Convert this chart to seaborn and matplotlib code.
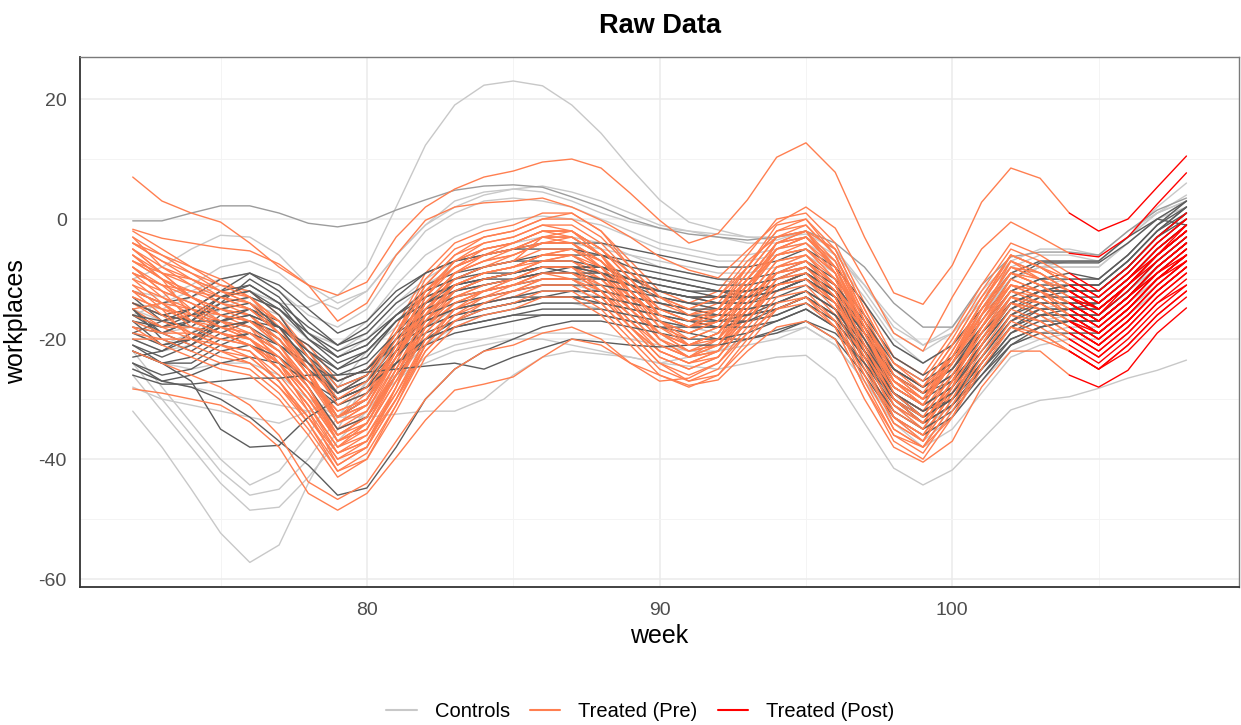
import matplotlib
matplotlib.use("Agg")
import matplotlib.pyplot as plt
from matplotlib.lines import Line2D
from matplotlib.ticker import MultipleLocator
import pandas as pd
import seaborn as sns

WEEKS = list(range(72, 109))
TREAT_START = 104

# treated units: coral up to week 104, red from week 104 on
t_hi = [7, 3, 1, -0.5, -4, -8, -11, -12.7, -10.5, -3, 2, 5, 7, 8, 9.5, 10, 8.5, 4.3, -0.2, -4, -2.4, 3.2, 10.3, 12.7, 7.8, -3, -12.3, -14.2, -7.7, 2.8, 8.5, 6.8, 1, -2, 0, 5.3, 10.5]
t_hi2 = [-1.7, -3.2, -4, -4.8, -5.3, -7.5, -11, -17, -14, -6, -0.2, 2, 2.7, 3, 3.5, 2, -0.2, -3, -6.3, -8.5, -9.8, -5.2, -0.7, 2, -1.5, -10, -19, -22, -13, -5, -0.5, -3, -5.7, -6.3, -3, 2.5, 7.7]
t_lo = [-28.3, -29, -30, -31, -33.8, -38, -45.7, -48.5, -45.7, -39.7, -33.5, -28.5, -27.5, -26.3, -23, -20, -21, -24, -26, -27.7, -26.8, -22, -18, -17, -20, -30, -38, -40.5, -37, -28, -22, -22, -26, -28, -25.2, -19, -14.8]
t_lo2 = [-22, -24, -26, -28, -31, -36, -43.8, -46.7, -44, -37, -30, -25, -22, -21, -19, -18, -20, -24, -27, -26.5, -24, -19, -15, -14, -18, -28, -36, -38, -33, -24, -18, -19, -22, -25, -21, -16, -12]
t_a = [-4, -7, -9, -11, -12, -16, -22, -29, -26, -18, -9, -4, -2, -1, 1, 1, -2, -7, -12, -14, -12, -6, 0, 1, -4, -14, -23, -26, -19, -11, -4, -6, -9, -12, -8, -3, 1]
t_b = [-6, -9, -11, -13, -14, -18, -21, -27, -25, -19, -11, -6, -4, -3, -1, -1, -4, -9, -14, -16, -14, -8, -2, -1, -6, -16, -25, -28, -21, -13, -6, -8, -11, -14, -10, -5, -1]
t_c = [-5, -9, -13, -15, -16, -20, -26, -33, -30, -22, -13, -8, -6, -5, -3, -3, -6, -11, -16, -18, -16, -10, -4, -3, -8, -18, -27, -30, -23, -15, -8, -10, -13, -16, -12, -7, -3]
t_d = [-13, -15, -16, -17, -20, -23, -28, -35, -32, -24, -15, -10, -8, -7, -3, -4, -8, -13, -18, -20, -18, -12, -6, -5, -10, -20, -29, -32, -25, -17, -10, -12, -15, -18, -14, -9, -5]
t_e = [-8, -12, -17, -19, -20, -24, -30, -37, -34, -26, -17, -12, -10, -9, -7, -7, -10, -15, -20, -22, -20, -14, -8, -7, -12, -22, -31, -34, -27, -19, -12, -14, -17, -20, -16, -11, -7]
t_f = [-14, -17, -19, -21, -22, -26, -32, -39, -36, -28, -19, -14, -12, -11, -9, -9, -12, -17, -22, -24, -22, -16, -10, -9, -14, -24, -33, -36, -29, -21, -14, -16, -19, -22, -18, -13, -9]
t_g = [-18, -19, -21, -23, -24, -28, -34, -41, -38, -30, -21, -16, -14, -13, -11, -11, -14, -19, -24, -26, -24, -18, -12, -11, -16, -26, -35, -38, -31, -23, -16, -18, -21, -24, -20, -15, -11]
t_h = [-3, -6, -9, -12, -14, -19, -25, -33, -30, -21, -12, -7, -5, -4, -2, -3, -6, -12, -17, -19, -17, -10, -4, -2, -8, -18, -28, -31, -24, -16, -9, -11, -14, -17, -13, -8, -4]
t_i = [-7, -10, -12, -14, -15, -19, -25, -34, -31, -22, -12, -7, -5, -4, -2, -2, -5, -10, -15, -17, -15, -9, -3, -2, -7, -17, -26, -29, -22, -14, -7, -9, -12, -15, -11, -6, -2]
t_j = [-6, -10, -16, -18, -19, -23, -29, -36, -33, -25, -16, -11, -9, -8, -6, -6, -9, -14, -19, -21, -19, -13, -7, -6, -11, -21, -30, -33, -26, -18, -11, -13, -16, -19, -15, -10, -6]
t_k = [-15, -14, -18, -20, -21, -25, -31, -38, -35, -27, -18, -13, -11, -10, -8, -8, -11, -16, -21, -23, -21, -15, -9, -8, -13, -23, -32, -35, -28, -20, -13, -15, -18, -21, -17, -12, -8]
t_l = [-11, -15, -20, -22, -23, -27, -33, -40, -37, -29, -20, -15, -13, -12, -10, -10, -13, -18, -23, -25, -23, -17, -11, -10, -15, -25, -34, -37, -30, -22, -15, -17, -20, -23, -19, -14, -10]
t_m = [-3, -8, -10, -12, -13, -17, -23, -30, -27, -19, -10, -5, -3, -2, 0, 0, -3, -8, -13, -15, -13, -7, -3, -2, -5, -15, -24, -27, -20, -12, -5, -7, -10, -13, -9, -4, 0]
t_n = [-20, -20, -22, -24, -25, -29, -35, -42, -39, -31, -22, -17, -15, -14, -12, -12, -15, -20, -25, -27, -25, -19, -13, -12, -17, -27, -36, -39, -32, -24, -17, -19, -22, -25, -21, -16, -12]
t_o = [-6, -10, -13, -16, -17, -20, -26, -33, -29, -21, -12, -8, -6, -5, -3, -2, -5, -10, -16, -18, -15, -8, -1, 0, -6, -17, -26, -30, -22, -14, -6, -8, -11, -14, -10, -5, -1]
t_p = [-10, -14, -17, -19, -21, -25, -31, -38, -34, -26, -18, -13, -12, -11, -9, -9, -11, -15, -19, -21, -19, -14, -8, -7, -12, -22, -31, -34, -27, -19, -12, -14, -17, -20, -16, -11, -7]
t_q = [-8, -12, -14, -16, -17, -21, -27, -34, -31, -23, -14, -9, -7, -6, -4, -4, -7, -12, -17, -19, -17, -11, -5, -4, -9, -19, -28, -31, -24, -16, -9, -11, -14, -17, -13, -8, -4]
t_r = [-18, -21, -23, -25, -26, -30, -36, -43, -40, -32, -23, -18, -16, -15, -13, -13, -16, -21, -26, -28, -26, -20, -14, -13, -18, -28, -37, -40, -33, -25, -18, -20, -22, -25, -22, -17, -13]
t_s = [-12, -14, -15, -16, -17, -20, -25, -30, -28, -22, -15, -11, -9, -8, -7, -7, -9, -13, -16, -18, -17, -13, -9, -8, -11, -18, -25, -28, -23, -16, -11, -12, -14, -17, -13, -9, -6]
t_t = [-5, -9, -13, -16, -18, -24, -32, -41, -38, -28, -16, -9, -6, -4, -2, -2, -6, -13, -20, -23, -20, -12, -4, -2, -9, -22, -33, -37, -28, -16, -7, -10, -13, -16, -11, -6, -1]
t_u = [-9, -11, -12, -13, -15, -19, -24, -31, -29, -22, -14, -10, -8, -6, -4, -3, -6, -11, -15, -17, -16, -11, -6, -4, -8, -17, -25, -29, -23, -15, -9, -10, -13, -15, -11, -7, -3]
t_v = [-14, -16, -17, -18, -20, -24, -30, -36, -33, -26, -18, -14, -12, -10, -8, -8, -10, -14, -19, -22, -21, -16, -11, -9, -13, -22, -30, -34, -28, -20, -13, -14, -17, -19, -15, -10, -7]
t_w = [-4, -6, -8, -10, -13, -18, -25, -33, -31, -23, -13, -7, -4, -3, -1, -2, -5, -10, -15, -17, -15, -9, -3, -1, -6, -16, -26, -30, -23, -14, -6, -8, -11, -14, -10, -6, -2]
t_x = [-16, -18, -18, -19, -21, -25, -31, -38, -36, -29, -21, -16, -13, -11, -9, -10, -13, -18, -22, -24, -22, -16, -10, -9, -14, -24, -33, -36, -29, -21, -14, -15, -18, -21, -17, -12, -8]
t_y = [-7, -9, -10, -12, -14, -17, -22, -28, -26, -19, -12, -8, -5, -4, -2, -2, -5, -9, -13, -16, -15, -10, -5, -3, -8, -18, -27, -30, -24, -15, -8, -9, -12, -15, -11, -6, -2]
t_z = [-12, -16, -19, -21, -22, -27, -34, -42, -40, -31, -21, -15, -12, -10, -8, -8, -12, -18, -23, -25, -23, -17, -10, -8, -13, -24, -34, -37, -30, -21, -13, -15, -18, -21, -17, -12, -8]
t_aa = [-2, -5, -8, -11, -13, -17, -23, -31, -28, -20, -11, -6, -3, -2, 0, 1, -2, -8, -13, -15, -13, -8, -2, 0, -5, -15, -24, -28, -21, -13, -6, -8, -10, -13, -9, -4, 0]
t_bb = [-19, -20, -20, -21, -23, -27, -33, -39, -37, -30, -22, -17, -14, -12, -11, -11, -14, -19, -24, -27, -26, -21, -15, -13, -17, -26, -35, -38, -31, -23, -16, -17, -20, -23, -19, -14, -11]
t_cc = [-10, -12, -14, -17, -19, -22, -27, -32, -30, -23, -16, -12, -10, -9, -7, -6, -8, -12, -17, -21, -20, -15, -9, -7, -11, -19, -27, -30, -24, -17, -11, -12, -15, -18, -14, -9, -5]
t_dd = [-8, -11, -15, -18, -19, -22, -28, -36, -34, -26, -17, -11, -9, -8, -6, -5, -7, -12, -18, -21, -19, -12, -5, -3, -8, -19, -29, -33, -26, -18, -10, -12, -15, -18, -14, -9, -5]
t_ee = [-9, -13, -16, -18, -20, -25, -31, -39, -37, -28, -18, -12, -10, -9, -7, -6, -9, -15, -20, -23, -22, -15, -8, -6, -11, -21, -31, -35, -27, -18, -11, -13, -16, -19, -15, -10, -6]
t_ff = [-13, -15, -17, -19, -21, -24, -29, -35, -33, -25, -17, -13, -11, -10, -9, -9, -12, -16, -21, -23, -21, -15, -9, -8, -12, -21, -29, -32, -26, -19, -13, -14, -17, -20, -16, -11, -7]
t_gg = [-5, -8, -11, -14, -16, -21, -28, -36, -33, -24, -14, -9, -7, -6, -4, -4, -7, -12, -17, -19, -17, -11, -5, -3, -8, -18, -27, -31, -24, -15, -8, -10, -12, -15, -11, -6, -2]
t_hh = [-11, -13, -15, -17, -18, -22, -28, -37, -35, -26, -16, -11, -9, -8, -6, -5, -8, -14, -19, -21, -19, -13, -7, -6, -10, -20, -30, -34, -27, -18, -11, -12, -16, -19, -15, -10, -6]
t_ii = [-15, -18, -20, -22, -24, -28, -33, -40, -38, -30, -20, -15, -13, -12, -10, -10, -13, -18, -22, -24, -23, -17, -11, -10, -14, -24, -33, -36, -29, -21, -14, -16, -19, -22, -18, -13, -9]
t_jj = [-7, -10, -13, -15, -16, -20, -26, -32, -30, -22, -14, -9, -7, -5, -4, -4, -7, -11, -16, -18, -17, -11, -6, -5, -9, -18, -27, -30, -24, -16, -9, -11, -14, -17, -13, -8, -4]
t_kk = [-17, -19, -19, -20, -21, -24, -30, -37, -35, -27, -19, -14, -12, -11, -10, -10, -12, -17, -21, -23, -22, -17, -11, -10, -14, -23, -32, -35, -28, -20, -14, -15, -18, -21, -17, -12, -8]
t_ll = [-4, -7, -10, -13, -15, -19, -26, -34, -32, -23, -13, -8, -6, -5, -3, -3, -6, -11, -16, -18, -16, -10, -4, -3, -7, -17, -27, -31, -23, -14, -7, -9, -12, -15, -11, -6, -2]
t_mm = [-12, -14, -17, -19, -20, -23, -29, -37, -34, -25, -16, -11, -9, -8, -6, -6, -9, -14, -19, -22, -21, -14, -8, -7, -11, -21, -30, -34, -27, -18, -12, -13, -16, -19, -15, -10, -6]
t_nn = [-9, -11, -13, -15, -17, -21, -27, -33, -31, -23, -15, -10, -8, -7, -5, -5, -8, -12, -17, -20, -18, -12, -6, -5, -9, -19, -28, -31, -24, -16, -9, -11, -14, -17, -13, -8, -4]

# control units, dark grey
d_a = [-12, -14, -13, -10, -9, -11, -15, -19, -17, -12, -9, -7, -6, -5, -4, -4, -4, -5, -6, -7, -8, -8, -7, -5, -8, -14, -21, -24, -21, -15, -9, -7, -7, -7, -3, 0, 3]
d_b = [-14, -16, -15, -12, -9, -12, -17, -21, -19, -14, -11, -9, -8, -7, -6, -6, -6, -7, -8, -9, -10, -10, -9, -7, -10, -16, -23, -26, -23, -17, -10, -7.3, -7.3, -7.3, -4, 0, -1]
d_c = [-16, -18, -17, -14, -13, -15, -19, -23, -21, -16, -13, -11, -10, -9, -8, -8, -8, -9, -10, -11, -12, -12, -11, -9, -12, -18, -25, -28, -25, -19, -13, -11, -11, -11, -7, -2, 2]
d_d = [-20, -22, -20, -16, -15, -17, -22, -28, -26, -20, -15, -13, -12, -11, -10, -10, -10, -11, -12, -13, -14, -14, -13, -11, -14, -20, -27, -30, -27, -21, -15, -13, -13, -13, -9, -4, 0]
d_e = [-16, -19, -21, -18, -17, -19, -23, -27, -25, -20, -17, -15, -14, -13, -12, -12, -12, -13, -14, -15, -16, -16, -15, -13, -16, -22, -29, -32, -29, -23, -17, -15, -15, -15, -11, -6, -2]
d_f = [-22, -24, -23, -20, -19, -21, -25, -29, -27, -22, -19, -17, -16, -15, -14, -14, -14, -15, -16, -17, -18, -18, -17, -15, -18, -24, -31, -34, -31, -25, -19, -17, -17, -17, -13, -8, -4]
d_g = [-24, -26, -25, -22, -21, -23, -27, -31, -29, -24, -21, -19, -18, -17, -16, -16, -16, -17, -18, -19, -20, -20, -19, -17, -20, -26, -33, -36, -33, -27, -21, -19, -19, -19, -15, -10, -6]
d_h = [-15, -19, -17, -13, -11, -14, -20, -24, -22, -17, -14, -12, -11, -10, -9, -9, -9, -10, -11, -12, -13, -13, -12, -10, -13, -19, -26, -29, -26, -20, -14, -12, -12, -12, -8, -3, 1]
d_i = [-19, -21, -20, -18, -17, -20, -26, -33, -30, -23, -18, -16, -15, -14, -13, -13, -13, -14, -15, -16, -17, -17, -16, -14, -17, -23, -30, -33, -30, -24, -18, -16, -16, -16, -12, -7, -3]
d_j = [-16, -17, -15, -12, -11, -14, -18, -21, -18, -13, -9, -7, -6, -5, -5, -5, -6, -8, -9, -10, -11, -11, -10, -8, -11, -17, -24, -27, -24, -18, -12, -10, -10, -10, -6, -1, 2]
d_k = [-17, -21, -20, -17, -16, -18, -22, -26, -24, -19, -16, -14, -13, -12, -11, -11, -11, -12, -13, -14, -15, -15, -14, -12, -15, -21, -28, -31, -28, -22, -16, -14, -14, -14, -10, -5, -1]
d_l = [-14, -16, -17, -17, -16, -18, -22, -25, -22, -17, -14, -12, -11, -10, -9, -9, -10, -11, -12, -13, -13, -13, -12, -10, -13, -19, -26, -29, -26, -20, -14, -12, -12, -12, -8, -3, 0]
d_m = [-21, -23, -21, -17, -15, -18, -24, -29, -27, -21, -17, -15, -14, -13, -13, -13, -14, -15, -16, -17, -17, -16, -14, -12, -15, -22, -29, -32, -29, -23, -17, -14, -14, -14, -10, -5, -1]
d_n = [-13, -17, -18, -14, -10, -13, -19, -22, -20, -16, -12, -10, -9, -9, -8, -9, -10, -11, -13, -14, -14, -13, -11, -9, -12, -19, -26, -29, -27, -21, -15, -12, -12, -12, -8, -3, 1]
d_o = [-19, -17, -16, -15, -14, -18, -24, -30, -28, -22, -16, -12, -10, -9, -8, -8, -9, -10, -12, -13, -13, -12, -11, -9, -13, -21, -29, -33, -30, -23, -16, -13, -12, -12, -8, -3, 1]
d_p = [-23, -22, -19, -17, -18, -21, -24, -27, -25, -21, -18, -16, -15, -14, -13, -12, -12, -13, -14, -15, -15, -15, -14, -12, -15, -22, -29, -32, -30, -24, -18, -16, -15, -15, -11, -6, -2]
d_q = [-15, -20, -22, -19, -17, -18, -21, -25, -23, -17, -13, -11, -10, -10, -9, -8, -8, -9, -10, -11, -12, -13, -12, -10, -13, -19, -25, -28, -25, -19, -14, -12, -11, -11, -7, -2, 2]
d_r = [-21, -24, -24, -21, -19, -22, -28, -35, -33, -26, -20, -17, -15, -14, -13, -13, -13, -14, -15, -16, -16, -16, -15, -13, -16, -23, -30, -34, -31, -25, -19, -16, -16, -16, -12, -7, -3]
d_s = [-17, -18, -16, -13, -12, -15, -20, -23, -21, -16, -12, -10, -8, -7, -7, -7, -8, -10, -11, -12, -12, -12, -11, -9, -12, -18, -25, -28, -25, -18, -12, -10, -9, -10, -6, -1, 3]
d_t = [-25, -27, -26, -24, -23, -24, -27, -30, -28, -24, -20, -18, -17, -16, -16, -16, -16, -17, -18, -18, -18, -17, -16, -14, -17, -23, -30, -33, -30, -25, -20, -18, -17, -17, -13, -8, -4]
d_u = [-18, -19, -17, -13, -12, -16, -23, -29, -26, -19, -14, -11, -10, -9, -8, -8, -9, -11, -12, -13, -14, -14, -12, -10, -13, -20, -28, -31, -28, -21, -14, -12, -11, -11, -7, -2, 1]
d_low = [-24, -27, -28, -30, -33, -37, -41, -46, -44.8, -38, -30, -25, -22, -20, -18, -17, -17, -18, -19, -20, -20, -19, -17, -15, -18, -25, -32, -35, -32, -26, -20, -18, -17, -17, -13, -8, -4]
d_dip = [-22, -24, -27, -35, -38, -37.7, -33, -30, -28, -24, -20, -18, -17, -16, -15, -15, -15, -16, -17, -18, -18, -17, -15, -13, -16, -22, -29, -33, -30, -24, -18, -15, -15, -14, -10, -5, -1]
d_flat = [-26, -27.5, -27.5, -27, -26.5, -26.5, -26, -26, -25.5, -25, -24.5, -24, -25, -23, -21.5, -20, -20.5, -21, -21.3, -21, -21, -20, -18.5, -17, -19, -24, -30, -34, -31, -26, -21, -18, -17, -17, -13, -9, -5]

# control unit, mid grey
g_top = [-0.3, -0.3, 1, 2.2, 2.2, 1, -0.7, -1.3, -0.5, 1.5, 3.2, 4.8, 5.5, 5.7, 5.3, 3.7, 2, 0, -1.5, -2.5, -3, -3.5, -3, -2, -4, -8, -14, -18, -18, -11, -6.3, -5.5, -5.5, -6, -2, 1.5, 3.5]

# control units, light grey
l_peak = [-14, -15, -13, -11, -12, -14, -14.7, -12.7, -8, 2, 12.3, 19, 22.3, 23, 22.2, 19, 14.3, 8.5, 3.2, -0.5, -1.8, -3, -3.5, -2, -5, -12, -19, -22, -19, -13, -8, -6, -6, -7, -3, 1, 3]
l_min = [-32, -38, -45, -52.3, -57.2, -54.3, -44, -35, -27, -20, -16, -14, -13, -12, -11, -11, -12, -13, -14, -15, -16, -16, -15, -13, -16, -22, -29, -32, -29, -23, -18, -16, -15, -15, -11, -7, -3]
l_2 = [-22, -28, -34, -40, -44.3, -42, -36, -28, -22, -18, -15, -13, -12, -11, -10, -10, -11, -12, -13, -14, -15, -15, -14, -12, -15, -21, -28, -31, -28, -22, -17, -15, -14, -14, -10, -6, -2]
l_3 = [-24, -30, -36, -42, -46, -45, -40, -33, -27, -22, -18, -15, -14, -13, -12, -12, -13, -14, -15, -16, -17, -16, -15, -13, -16, -23, -31, -35, -31, -25, -19, -17, -16, -16, -12, -8, -4]
l_4 = [-26, -32, -38, -44, -48.5, -48, -43, -37, -32, -26, -21, -18, -16, -15, -14, -14, -15, -16, -17, -18, -19, -18, -17, -15, -18, -25, -33, -37, -33, -27, -21, -19, -18, -18, -14, -10, -6]
l_5 = [-25, -27, -28, -29, -30, -31, -32, -33, -33, -32.5, -32, -32, -30, -26, -23, -22, -22.5, -23, -24, -24.5, -25, -24, -23, -22.7, -26.5, -34, -41.5, -44.3, -41.8, -36.8, -31.8, -30.2, -29.6, -28.2, -26.5, -25.2, -23.5]
l_6 = [-10, -8, -5, -2.7, -3, -6, -11, -14, -12, -6, -1, 2, 4, 5, 5.5, 4.5, 3, 1, -1, -2, -3, -4, -4, -3, -6, -11, -17, -21, -19, -14, -9, -7, -7, -7, -3, 1, 4]
l_7 = [-16, -14, -12, -10, -9, -12, -16, -18, -15, -8, -2, 1, 3, 3.5, 3, 2, 0, -2, -4, -5, -6, -6, -5, -4, -7, -13, -20, -24, -21, -16, -10, -8, -8, -8, -4, 0, 2]
l_8 = [-20, -22, -21, -18, -17, -19, -23, -28, -26, -21, -17, -15, -14, -13, -12, -12, -12, -13, -14, -15, -16, -16, -15, -13, -16, -22, -29, -33, -30, -24, -18, -16, -16, -16, -12, -7, -3]
l_9 = [-28, -30, -31, -32, -33, -34, -32, -30, -28, -26, -24, -22, -21, -20, -20, -21, -22, -23, -24, -23, -22, -20, -19, -18, -21, -27, -34, -38, -35, -29, -23, -21, -20, -20, -16, -12, -8]
l_10 = [-17, -19, -18, -15, -14, -16, -20, -23, -20, -15, -11, -8, -6, -5, -4, -4, -5, -6, -7, -8, -9, -9, -8, -6, -9, -16, -23, -26, -23, -16, -10, -8, -7, -7, -3, 2, 6]
l_11 = [-12, -13, -11, -8, -7, -9, -13, -15, -12, -6, -1, 3, 4.5, 5, 4.5, 3, 1, -0.5, -1.5, -2, -2.5, -3, -3, -2.5, -5, -11, -18, -21, -18, -12, -7, -5, -5, -6, -2, 1, 3]
l_12 = [-19, -21, -19, -15, -13, -15, -19, -22, -19, -14, -10, -7, -5, -4, -3, -3, -4, -6, -8, -9, -10, -11, -10, -8, -11, -18, -25, -28, -25, -19, -13, -11, -10, -10, -6, -1, 3]
l_13 = [-22, -24, -25, -24, -24, -26, -30, -33, -31, -27, -23, -21, -20, -19, -19, -19, -19, -20, -21, -22, -22, -21, -20, -18, -21, -27, -33, -36, -33, -27, -22, -20, -19, -19, -15, -11, -7]
l_14 = [-15, -17, -16, -14, -13, -15, -19, -21, -17, -11, -6, -3, -1, 0, 0.5, 0, -1, -3, -5, -6, -7, -7, -6, -5, -8, -14, -21, -24, -21, -15, -10, -8, -8, -8, -4, 0, 3]

TREATED = [t_a, t_s, t_ee, t_b, t_t, t_ff, t_c, t_u, t_gg, t_d, t_v, t_hh,
           t_e, t_w, t_ii, t_f, t_x, t_jj, t_g, t_y, t_kk, t_h, t_z, t_ll,
           t_i, t_aa, t_mm, t_j, t_bb, t_nn, t_k, t_cc, t_l, t_dd, t_m, t_n,
           t_o, t_p, t_q, t_r, t_hi, t_hi2, t_lo, t_lo2]
CONTROLS_DARK = [d_a, d_n, d_b, d_o, d_c, d_p, d_d, d_q, d_e, d_r, d_f,
                 d_s, d_g, d_t, d_h, d_u, d_i, d_j, d_k, d_l, d_m, d_low,
                 d_dip, d_flat]
CONTROLS_MID = [g_top]
CONTROLS_LIGHT = [l_peak, l_min, l_2, l_3, l_4, l_5, l_6, l_7, l_8, l_9,
                  l_10, l_11, l_12, l_13, l_14]

LIGHT = "#c8c8c8"
MID = "#9c9c9c"
DARK = "#5c5c5c"
CORAL = "#ff7f50"
RED = "#ff0000"


def unit_frame(values, lo=None, hi=None):
    assert len(values) == len(WEEKS)
    df = pd.DataFrame({"week": WEEKS, "value": values})
    if lo is not None:
        df = df[df["week"] >= lo]
    if hi is not None:
        df = df[df["week"] <= hi]
    return df


def draw(ax, values, color, lo=None, hi=None, z=2):
    sns.lineplot(data=unit_frame(values, lo, hi), x="week", y="value",
                 color=color, linewidth=1.0, estimator=None, ax=ax,
                 legend=False, zorder=z)


def main():
    sns.set_style("white")
    plt.rcParams["font.family"] = ["Liberation Sans", "DejaVu Sans"]
    plt.rcParams["axes.unicode_minus"] = False

    fig = plt.figure(figsize=(12.41, 7.25), dpi=100)
    ax = fig.add_axes([0.0645, 0.1903, 0.934, 0.7311])

    for vals in CONTROLS_LIGHT:
        draw(ax, vals, LIGHT, z=2)
    for vals in CONTROLS_MID:
        draw(ax, vals, MID, z=2)
    # interleave treated (pre) and dark controls like ggplot's group order
    n = max(len(TREATED), len(CONTROLS_DARK))
    for i in range(n):
        if i < len(TREATED):
            draw(ax, TREATED[i], CORAL, hi=TREAT_START, z=3)
        if i < len(CONTROLS_DARK):
            draw(ax, CONTROLS_DARK[i], DARK, z=3)
    for vals in TREATED:
        draw(ax, vals, RED, lo=TREAT_START, z=4)

    ax.set_xlim(70.2, 109.8)
    ax.set_ylim(-61.3, 27.0)
    ax.xaxis.set_major_locator(MultipleLocator(10))
    ax.xaxis.set_minor_locator(MultipleLocator(5))
    ax.yaxis.set_major_locator(MultipleLocator(20))
    ax.yaxis.set_minor_locator(MultipleLocator(10))
    ax.grid(True, which="major", color="#ebebeb", linewidth=1.1, zorder=0)
    ax.grid(True, which="minor", color="#f4f4f4", linewidth=0.7, zorder=0)
    ax.set_axisbelow(True)

    ax.tick_params(axis="both", which="major", length=5, width=1.0,
                   color="#333333", labelcolor="#4d4d4d", labelsize=14)
    ax.tick_params(axis="x", which="major", pad=6)
    ax.tick_params(axis="y", which="major", pad=4.5)
    ax.tick_params(which="minor", length=0)

    for side in ["left", "bottom"]:
        ax.spines[side].set_color("#333333")
        ax.spines[side].set_linewidth(1.3)
    for side in ["top", "right"]:
        ax.spines[side].set_color("#7a7a7a")
        ax.spines[side].set_linewidth(1.0)

    ax.set_xlabel("week", fontsize=18, color="black")
    ax.set_ylabel("workplaces", fontsize=18, color="black")
    ax.xaxis.set_label_coords(0.5, -0.070)
    ax.yaxis.set_label_coords(-0.045, 0.5)
    ax.set_title("Raw Data", fontsize=19.5, fontweight="bold", pad=17,
                 color="black")

    handles = [Line2D([], [], color=LIGHT, linewidth=1.5),
               Line2D([], [], color=CORAL, linewidth=1.5),
               Line2D([], [], color=RED, linewidth=1.5)]
    leg = fig.legend(handles, ["Controls", "Treated (Pre)", "Treated (Post)"],
                     loc="center", bbox_to_anchor=(0.516, 0.018), ncol=3,
                     frameon=False, fontsize=14.5, handlelength=1.5,
                     handletextpad=0.9, columnspacing=1.0)
    for txt in leg.get_texts():
        txt.set_color("black")

    fig.savefig("out.png", dpi=100)
    plt.close(fig)


if __name__ == "__main__":
    main()
